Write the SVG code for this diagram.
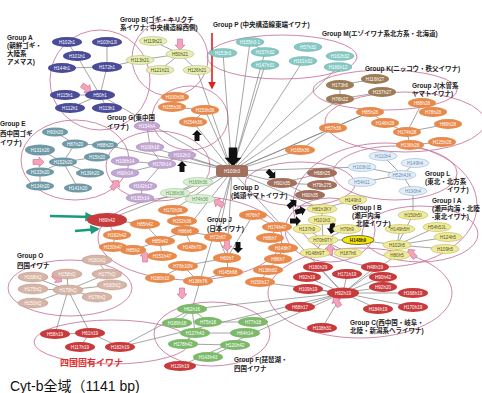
<svg xmlns="http://www.w3.org/2000/svg" width="482" height="393" viewBox="0 0 482 393">
<defs>
<style>
text{font-family:"Liberation Sans","Noto Sans CJK JP",sans-serif}
.n text{font-size:4.6px;text-anchor:middle}
.grp{fill:none;stroke:#c87aa0;stroke-width:0.9}
.ed{stroke:#7e7e7e;stroke-width:0.7;fill:none}
.a ellipse{fill:#4a4c98} .a text{fill:#fff}
.b ellipse{fill:#e9efb4;stroke:#a8b070;stroke-width:0.5} .b text{fill:#4a5020}
.p ellipse{fill:#86c8c4;stroke:#5aa6a2;stroke-width:0.4} .p text{fill:#fff}
.k ellipse{fill:#9c7b55} .k text{fill:#fff}
.o ellipse{fill:#e98a4c} .o text{fill:#fff}
.ge ellipse{fill:#6f99a6} .ge text{fill:#fff}
.g ellipse{fill:#c2a6d2;stroke:#9a7cb0;stroke-width:0.4} .g text{fill:#fff}
.lg ellipse{fill:#dcefd6;stroke:#8cbf86;stroke-width:0.5} .lg text{fill:#5a9a56}
.d ellipse{fill:#a2705c} .d text{fill:#fff}
.l ellipse{fill:#e2eef8;stroke:#8aa8c8;stroke-width:0.5} .l text{fill:#6d8cb0}
.y ellipse{fill:#efeb9c;stroke:#b8aa48;stroke-width:0.5} .y text{fill:#5a5520}
.yb ellipse{fill:#f6e800;stroke:#222;stroke-width:0.6} .yb text{fill:#222;font-weight:bold}
.t ellipse{fill:#d6b4a6;stroke:#b08878;stroke-width:0.4} .t text{fill:#fff}
.r ellipse{fill:#c83a3c} .r text{fill:#fff}
.f ellipse{fill:#7cba6a} .f text{fill:#fff}
.hub rect{fill:#a2705c} .hub text{fill:#fff}
.lbl{font-size:6.5px;font-weight:bold;fill:#222}
.bk{fill:#111}
.pk{fill:#f3a3bb;stroke:#d46c8c;stroke-width:0.6}
</style>
<path id="blk" d="M-5,-2.5 L1,-2.5 L1,-5 L6,0 L1,5 L1,2.5 L-5,2.5 Z"/>
<marker id="mr" viewBox="0 0 10 10" refX="8" refY="5" markerWidth="5" markerHeight="5" orient="auto"><path d="M0,0 L10,5 L0,10 Z" fill="#e02020"/></marker>
<marker id="mg" viewBox="0 0 10 10" refX="8" refY="5" markerWidth="4" markerHeight="4" orient="auto"><path d="M0,0 L10,5 L0,10 Z" fill="#1a9a78"/></marker>
</defs>
<rect width="482" height="393" fill="#fff"/>

<g id="groups">
<circle class="grp" cx="100" cy="80" r="50"/>
<circle class="grp" cx="170" cy="58" r="38"/>
<ellipse class="grp" cx="282" cy="57" rx="75" ry="22"/>
<ellipse class="grp" cx="385" cy="90" rx="72" ry="20"/>
<ellipse class="grp" cx="405" cy="122" rx="80" ry="30"/>
<ellipse class="grp" cx="75" cy="160" rx="54" ry="40"/>
<ellipse class="grp" cx="158" cy="166" rx="52" ry="35"/>
<ellipse class="grp" cx="190" cy="118" rx="38" ry="32"/>
<ellipse class="grp" cx="300" cy="184" rx="55" ry="22"/>
<ellipse class="grp" cx="395" cy="173" rx="62" ry="27"/>
<ellipse class="grp" cx="330" cy="230" rx="45" ry="32"/>
<ellipse class="grp" cx="420" cy="234" rx="58" ry="28"/>
<ellipse class="grp" cx="385" cy="205" rx="92" ry="62"/>
<ellipse class="grp" cx="190" cy="238" rx="92" ry="42"/>
<ellipse class="grp" cx="70" cy="288" rx="62" ry="28"/>
<ellipse class="grp" cx="112" cy="342" rx="78" ry="22"/>
<ellipse class="grp" cx="212" cy="334" rx="58" ry="32"/>
<ellipse class="grp" cx="360" cy="293" rx="92" ry="45"/>
</g>

<g id="connectors">
<path class="ed" d="M232,171L100,95M232,171L197,70M232,171L223,53M232,171L250,42M232,171L265,52M232,171L265,65M232,171L303,61M232,171L338,67M232,171L340,99M232,171L370,112M232,171L300,150M232,171L333,128M232,171L105,145M232,171L182,155M232,171L150,147M232,171L198,182M232,171L282,183M232,171L362,167M232,171L322,209M232,171L227,258M232,171L218,237M232,171L185,231M232,171L173,210M232,171L192,309M232,171L343,293M232,171L107,220M232,171L193,122M232,171L205,110"/>
<path class="ed" d="M107,42L107,67M77,56L100,95M107,67L100,95M62,68L107,67M65,95L100,95M100,95L70,108M100,95L107,108M67,42L77,56M107,67L140,60"/>
<path class="ed" d="M180,54L153,41M180,54L140,60M180,54L160,70M180,54L197,70M250,42L265,52M340,85L340,99M340,99L382,92M375,79L340,85"/>
<path class="ed" d="M407,132L385,123M407,132L422,103M422,103L433,112M407,132L448,124M385,123L370,112M407,132L410,145M410,145L442,142M333,128L370,112M300,150L333,128M175,97L172,107M172,107L205,110M205,110L193,122"/>
<path class="ed" d="M63,162L40,150M63,162L75,144M75,144L55,132M75,144L105,145M63,162L97,157M63,162L40,172M63,162L90,173M40,172L40,186M63,162L78,188"/>
<path class="ed" d="M162,164L150,147M162,164L182,155M162,164L125,161M162,164L125,173M162,164L143,186M143,186L140,198M150,147L147,126M198,182L175,193M175,193L200,199"/>
<path class="ed" d="M282,183L322,173M282,183L322,185M282,183L310,195M402,175L383,156M402,175L415,163M402,175L362,167M402,175L362,182M402,175L413,191"/>
<path class="ed" d="M323,240L322,220M322,220L322,209M323,240L307,229M323,240L347,229M323,240L358,240M323,240L315,253M323,240L348,253M322,209L353,200M358,240L397,245M397,245L413,215M397,245L400,229M397,245L437,227M397,245L448,237M397,245L445,249M397,245L397,255M413,191L413,215"/>
<path class="ed" d="M185,231L173,210M185,231L182,221M185,231L192,247M185,231L218,237M185,231L160,241M160,241L145,224M160,241L133,250M160,241L162,256M218,237L227,258M227,258L253,215M253,215L277,227M277,227L270,238M270,238L283,248M283,248L278,259M107,220L145,224M107,220L115,235M115,235L113,247"/>
<path class="ed" d="M183,266L160,278M183,266L198,281M198,281L228,272M228,272L227,258M227,258L183,266M278,259L268,270M268,270L260,282"/>
<path class="ed" d="M68,290L67,274M68,290L33,289M68,290L33,277M68,290L107,274M68,290L112,285M68,290L97,297M68,290L33,303M97,260L107,274M68,290L55,334M68,290L90,333"/>
<path class="ed" d="M90,333L55,334M90,333L80,347M90,333L120,347M120,347L192,309M180,366L343,293M120,347L343,293"/>
<path class="ed" d="M192,309L177,323M192,309L208,322M208,322L253,322M192,309L195,333M195,333L245,333M195,333L183,344M183,344L235,345M235,345L208,357M192,309L343,293M253,322L300,307"/>
<path class="ed" d="M343,293L318,267M343,293L307,277M343,293L347,274M343,293L308,289M343,293L300,307M343,293L322,328M343,293L375,267M343,293L383,277M343,293L383,287M343,293L413,293M343,293L413,307M343,293L378,309M343,293L260,282M343,293L397,255"/>
<path d="M212,33L212,88" stroke="#e02020" stroke-width="1.6" marker-end="url(#mr)"/>
<path d="M50,216L93,217" stroke="#1a9a78" stroke-width="2.4" marker-end="url(#mg)"/>
<path d="M75,231L98,229" stroke="#1a9a78" stroke-width="2.4" marker-end="url(#mg)"/>
</g>

<g id="arrows">
<use href="#blk" class="bk" transform="translate(197,136) rotate(-90)"/>
<use href="#blk" class="bk" transform="translate(182,167) rotate(-90)"/>
<use href="#blk" class="bk" transform="translate(233,156) rotate(90) scale(1.7)"/>
<use href="#blk" class="bk" transform="translate(271,174) rotate(45)"/>
<use href="#blk" class="bk" transform="translate(292,204) rotate(-40)"/>
<use href="#blk" class="bk" transform="translate(300,211) rotate(-15)"/>
<use href="#blk" class="bk" transform="translate(295,221) rotate(0)"/>
<use href="#blk" class="bk" transform="translate(332,228) rotate(100)"/>
<use href="#blk" class="bk" transform="translate(238,247) rotate(90)"/>
<use href="#blk" class="pk" transform="translate(180,44) rotate(90)"/>
<use href="#blk" class="pk" transform="translate(86,88) rotate(35)"/>
<use href="#blk" class="pk" transform="translate(38,162)"/>
<use href="#blk" class="pk" transform="translate(115,185) rotate(-50)"/>
<use href="#blk" class="pk" transform="translate(219,203) rotate(-150)"/>
<use href="#blk" class="pk" transform="translate(145,257) rotate(-90)"/>
<use href="#blk" class="pk" transform="translate(227,245) rotate(90)"/>
<use href="#blk" class="pk" transform="translate(330,250) rotate(-90)"/>
<use href="#blk" class="pk" transform="translate(57,278) rotate(40)"/>
<use href="#blk" class="pk" transform="translate(182,293) rotate(90)"/>
<use href="#blk" class="pk" transform="translate(337,302) rotate(-120)"/>
<use href="#blk" class="pk" transform="translate(412,254) rotate(-130)"/>
</g>

<g id="hub" class="n hub"><rect x="216" y="165" width="32" height="12" rx="3"/><text x="232" y="173">H100h3</text></g>

<g id="nA1" class="n a"><ellipse cx="67" cy="42" rx="15" ry="5"/><text x="67" y="43.6">H102h1</text></g>
<g id="nA2" class="n a"><ellipse cx="107" cy="42" rx="15" ry="5"/><text x="107" y="43.6">H103h1JI</text></g>
<g id="nA3" class="n a"><ellipse cx="77" cy="56" rx="14" ry="5"/><text x="77" y="57.6">H101h1</text></g>
<g id="nA4" class="n a"><ellipse cx="62" cy="68" rx="14" ry="5"/><text x="62" y="69.6">H144h1</text></g>
<g id="nA5" class="n a"><ellipse cx="107" cy="67" rx="15" ry="5"/><text x="107" y="68.6">H172h1</text></g>
<g id="nA6" class="n a"><ellipse cx="65" cy="95" rx="15" ry="5"/><text x="65" y="96.6">H115h1</text></g>
<g id="nA7" class="n a"><ellipse cx="100" cy="95" rx="15" ry="5"/><text x="100" y="96.6">H50h1</text></g>
<g id="nA8" class="n a"><ellipse cx="70" cy="108" rx="15" ry="5"/><text x="70" y="109.6">H112h1</text></g>
<g id="nA9" class="n a"><ellipse cx="107" cy="108" rx="15" ry="5"/><text x="107" y="109.6">H113h1</text></g>

<g id="nB1" class="n b"><ellipse cx="153" cy="41" rx="14" ry="4.5"/><text x="153" y="42.6">H119h21</text></g>
<g id="nB2" class="n b"><ellipse cx="180" cy="54" rx="14" ry="4.5"/><text x="180" y="55.6">H50h21</text></g>
<g id="nB3" class="n b"><ellipse cx="140" cy="60" rx="14" ry="4.5"/><text x="140" y="61.6">H113h21</text></g>
<g id="nB4" class="n b"><ellipse cx="160" cy="70" rx="14" ry="4.5"/><text x="160" y="71.6">H121h21</text></g>
<g id="nB5" class="n b"><ellipse cx="197" cy="70" rx="14" ry="4.5"/><text x="197" y="71.6">H126h21</text></g>

<g id="nP1" class="n p"><ellipse cx="223" cy="53" rx="14" ry="4.5"/><text x="223" y="54.6">H153h3</text></g>
<g id="nP2" class="n p"><ellipse cx="250" cy="42" rx="14" ry="4.5"/><text x="250" y="43.6">H155h3-1</text></g>
<g id="nP3" class="n p"><ellipse cx="265" cy="52" rx="14" ry="4.5"/><text x="265" y="53.6">H157h32</text></g>
<g id="nP4" class="n p"><ellipse cx="265" cy="65" rx="14" ry="4.5"/><text x="265" y="66.6">H147h31</text></g>
<g id="nP5" class="n p"><ellipse cx="308" cy="47" rx="14" ry="4.5"/><text x="308" y="48.6">H57h32</text></g>
<g id="nP6" class="n p"><ellipse cx="340" cy="56" rx="14" ry="4.5"/><text x="340" y="57.6">H162h32</text></g>
<g id="nP7" class="n p"><ellipse cx="303" cy="61" rx="14" ry="4.5"/><text x="303" y="62.6">H161h32</text></g>
<g id="nP8" class="n p"><ellipse cx="338" cy="67" rx="14" ry="4.5"/><text x="338" y="68.6">H166h12</text></g>

<g id="nK1" class="n k"><ellipse cx="340" cy="85" rx="14" ry="5"/><text x="340" y="86.6">H173h6</text></g>
<g id="nK2" class="n k"><ellipse cx="340" cy="99" rx="14" ry="5"/><text x="340" y="100.6">H78h22</text></g>
<g id="nK3" class="n k"><ellipse cx="375" cy="79" rx="14" ry="5"/><text x="375" y="80.6">H116h27</text></g>
<g id="nK4" class="n k"><ellipse cx="382" cy="92" rx="14" ry="5"/><text x="382" y="93.6">H157h27</text></g>

<g id="nJ1" class="n o"><ellipse cx="422" cy="103" rx="14" ry="5"/><text x="422" y="104.6">H88h28</text></g>
<g id="nJ2" class="n o"><ellipse cx="433" cy="112" rx="14" ry="5"/><text x="433" y="113.6">H78h28</text></g>
<g id="nJ3" class="n o"><ellipse cx="370" cy="112" rx="14" ry="5"/><text x="370" y="113.6">H85h28</text></g>
<g id="nJ4" class="n o"><ellipse cx="385" cy="123" rx="14" ry="5"/><text x="385" y="124.6">H146h28</text></g>
<g id="nJ5" class="n o"><ellipse cx="448" cy="124" rx="14" ry="5"/><text x="448" y="125.6">H89h28</text></g>
<g id="nJ6" class="n o"><ellipse cx="407" cy="132" rx="14" ry="5"/><text x="407" y="133.6">H174h28</text></g>
<g id="nJ7" class="n o"><ellipse cx="410" cy="145" rx="14" ry="5"/><text x="410" y="146.6">H136h28</text></g>
<g id="nJ8" class="n o"><ellipse cx="442" cy="142" rx="14" ry="5"/><text x="442" y="143.6">H125h28</text></g>
<g id="nJ9" class="n o"><ellipse cx="333" cy="128" rx="14" ry="5"/><text x="333" y="129.6">H57h36</text></g>
<g id="nJ10" class="n o"><ellipse cx="300" cy="150" rx="15" ry="5"/><text x="300" y="151.6">H165h36</text></g>
<g id="nJ11" class="n o"><ellipse cx="175" cy="97" rx="14" ry="5"/><text x="175" y="98.6">H100h36</text></g>
<g id="nJ12" class="n o"><ellipse cx="172" cy="107" rx="14" ry="5"/><text x="172" y="108.6">H155h36</text></g>
<g id="nJ13" class="n o"><ellipse cx="205" cy="110" rx="14" ry="5"/><text x="205" y="111.6">H153h36</text></g>
<g id="nJ14" class="n o"><ellipse cx="193" cy="122" rx="14" ry="5"/><text x="193" y="123.6">H154h36</text></g>

<g id="nE1" class="n ge"><ellipse cx="55" cy="132" rx="13" ry="4.5"/><text x="55" y="133.6">H93h20</text></g>
<g id="nE2" class="n ge"><ellipse cx="75" cy="144" rx="13" ry="4.5"/><text x="75" y="145.6">H87h20</text></g>
<g id="nE3" class="n ge"><ellipse cx="105" cy="145" rx="13" ry="4.5"/><text x="105" y="146.6">H88h20</text></g>
<g id="nE4" class="n ge"><ellipse cx="40" cy="150" rx="15" ry="5.5"/><text x="40" y="151.6">H131h20</text></g>
<g id="nE5" class="n ge"><ellipse cx="63" cy="162" rx="14" ry="4.5"/><text x="63" y="163.6">H152h20</text></g>
<g id="nE6" class="n ge"><ellipse cx="97" cy="157" rx="13" ry="4.5"/><text x="97" y="158.6">H15h20</text></g>
<g id="nE7" class="n ge"><ellipse cx="40" cy="172" rx="14" ry="4.5"/><text x="40" y="173.6">H133h20</text></g>
<g id="nE8" class="n ge"><ellipse cx="90" cy="173" rx="14" ry="4.5"/><text x="90" y="174.6">H139h20</text></g>
<g id="nE9" class="n ge"><ellipse cx="40" cy="186" rx="14" ry="4.5"/><text x="40" y="187.6">H134h20</text></g>
<g id="nE10" class="n ge"><ellipse cx="78" cy="188" rx="14" ry="4.5"/><text x="78" y="189.6">H141h20</text></g>

<g id="nG1" class="n g"><ellipse cx="147" cy="126" rx="13" ry="4.5"/><text x="147" y="127.6">H154hA</text></g>
<g id="nG2" class="n g"><ellipse cx="150" cy="147" rx="14" ry="4.5"/><text x="150" y="148.6">H109h18</text></g>
<g id="nG3" class="n g"><ellipse cx="182" cy="155" rx="14" ry="4.5"/><text x="182" y="156.6">H162h3</text></g>
<g id="nG4" class="n g"><ellipse cx="162" cy="164" rx="14" ry="4.5"/><text x="162" y="165.6">H179h14</text></g>
<g id="nG5" class="n g"><ellipse cx="125" cy="161" rx="14" ry="4.5"/><text x="125" y="162.6">H108h14</text></g>
<g id="nG6" class="n g"><ellipse cx="125" cy="173" rx="14" ry="4.5"/><text x="125" y="174.6">H90h14</text></g>
<g id="nG7" class="n g"><ellipse cx="143" cy="186" rx="14" ry="4.5"/><text x="143" y="187.6">H142h17</text></g>
<g id="nG8" class="n g"><ellipse cx="140" cy="198" rx="14" ry="4.5"/><text x="140" y="199.6">H135h14</text></g>

<g id="nLG1" class="n lg"><ellipse cx="198" cy="182" rx="15" ry="4.5"/><text x="198" y="183.6">H169h36</text></g>
<g id="nLG2" class="n lg"><ellipse cx="175" cy="193" rx="15" ry="4.5"/><text x="175" y="194.6">H136h36</text></g>
<g id="nLG3" class="n lg"><ellipse cx="200" cy="199" rx="15" ry="4.5"/><text x="200" y="200.6">H74h36</text></g>

<g id="nD1" class="n d"><ellipse cx="322" cy="173" rx="15" ry="5"/><text x="322" y="174.6">H68h25</text></g>
<g id="nD2" class="n d"><ellipse cx="282" cy="183" rx="15" ry="5"/><text x="282" y="184.6">H91h35</text></g>
<g id="nD3" class="n d"><ellipse cx="322" cy="185" rx="15" ry="5"/><text x="322" y="186.6">H79h275</text></g>
<g id="nD4" class="n d"><ellipse cx="310" cy="195" rx="15" ry="5"/><text x="310" y="196.6">H90h35</text></g>

<g id="nL1" class="n l"><ellipse cx="383" cy="156" rx="14" ry="4.5"/><text x="383" y="157.6">H110h4</text></g>
<g id="nL2" class="n l"><ellipse cx="415" cy="163" rx="14" ry="4.5"/><text x="415" y="164.6">H149h4</text></g>
<g id="nL3" class="n l"><ellipse cx="402" cy="175" rx="14" ry="4.5"/><text x="402" y="176.6">H52h4JK</text></g>
<g id="nL4" class="n l"><ellipse cx="362" cy="167" rx="14" ry="4.5"/><text x="362" y="168.6">H103h11</text></g>
<g id="nL5" class="n l"><ellipse cx="362" cy="182" rx="14" ry="4.5"/><text x="362" y="183.6">H54h11</text></g>
<g id="nL6" class="n l"><ellipse cx="413" cy="191" rx="14" ry="4.5"/><text x="413" y="192.6">H190h4</text></g>

<g id="nI1" class="n y"><ellipse cx="353" cy="200" rx="14" ry="4.5"/><text x="353" y="201.6">H149h3</text></g>
<g id="nI2" class="n y"><ellipse cx="322" cy="209" rx="15" ry="4.5"/><text x="322" y="210.6">H81h3KY</text></g>
<g id="nI3" class="n y"><ellipse cx="322" cy="220" rx="14" ry="4.5"/><text x="322" y="221.6">H101h3</text></g>
<g id="nI4" class="n y"><ellipse cx="307" cy="229" rx="14" ry="4.5"/><text x="307" y="230.6">H137h9</text></g>
<g id="nI5" class="n y"><ellipse cx="347" cy="229" rx="14" ry="4.5"/><text x="347" y="230.6">H79h9</text></g>
<g id="nI6" class="n y"><ellipse cx="323" cy="240" rx="15" ry="4.5"/><text x="323" y="241.6">H70h9TY</text></g>
<g id="nI7" class="n y"><ellipse cx="315" cy="253" rx="15" ry="4.5"/><text x="315" y="254.6">H148h9T</text></g>
<g id="nI8" class="n y"><ellipse cx="348" cy="253" rx="14" ry="4.5"/><text x="348" y="254.6">H187h6</text></g>
<g id="nI9" class="n yb"><ellipse cx="358" cy="240" rx="16" ry="4.5"/><text x="358" y="241.6">H148h9</text></g>
<g id="nI10" class="n y"><ellipse cx="413" cy="215" rx="15" ry="4.5"/><text x="413" y="216.6">H150h5I</text></g>
<g id="nI11" class="n y"><ellipse cx="400" cy="229" rx="15" ry="4.5"/><text x="400" y="230.6">H149h5H</text></g>
<g id="nI12" class="n y"><ellipse cx="437" cy="227" rx="14" ry="4.5"/><text x="437" y="228.6">H54h5JL</text></g>
<g id="nI13" class="n y"><ellipse cx="448" cy="237" rx="14" ry="4.5"/><text x="448" y="238.6">H124h5</text></g>
<g id="nI14" class="n y"><ellipse cx="397" cy="245" rx="14" ry="4.5"/><text x="397" y="246.6">H102h5</text></g>
<g id="nI15" class="n y"><ellipse cx="445" cy="249" rx="14" ry="4.5"/><text x="445" y="250.6">H109h5</text></g>
<g id="nI16" class="n y"><ellipse cx="397" cy="255" rx="13" ry="4.5"/><text x="397" y="256.6">H80h5</text></g>

<g id="nO1" class="n r"><ellipse cx="107" cy="220" rx="20" ry="7"/><text x="107" y="221.6">H89h42</text></g>
<g id="nO2" class="n o"><ellipse cx="117" cy="235" rx="14" ry="5"/><text x="117" y="236.6">H182h42</text></g>
<g id="nO3" class="n o"><ellipse cx="113" cy="247" rx="14" ry="5"/><text x="113" y="248.6">H150h42</text></g>
<g id="nO4" class="n o"><ellipse cx="173" cy="210" rx="15" ry="5"/><text x="173" y="211.6">H170h36</text></g>
<g id="nO5" class="n o"><ellipse cx="182" cy="221" rx="15" ry="5"/><text x="182" y="222.6">H152h36</text></g>
<g id="nO6" class="n o"><ellipse cx="185" cy="231" rx="14" ry="5"/><text x="185" y="232.6">H86h6</text></g>
<g id="nO7" class="n o"><ellipse cx="145" cy="224" rx="15" ry="5"/><text x="145" y="225.6">H85h42</text></g>
<g id="nO9" class="n o"><ellipse cx="160" cy="241" rx="15" ry="5"/><text x="160" y="242.6">H85h42</text></g>
<g id="nO10" class="n o"><ellipse cx="133" cy="250" rx="13" ry="5"/><text x="133" y="251.6">H85h2</text></g>
<g id="nO11" class="n o"><ellipse cx="192" cy="247" rx="15" ry="5"/><text x="192" y="248.6">H148h70</text></g>
<g id="nO12" class="n o"><ellipse cx="162" cy="256" rx="15" ry="5"/><text x="162" y="257.6">H151h47</text></g>
<g id="nO13" class="n o"><ellipse cx="218" cy="237" rx="14" ry="5"/><text x="218" y="238.6">H72h67</text></g>
<g id="nO14" class="n o"><ellipse cx="227" cy="258" rx="14" ry="5"/><text x="227" y="259.6">H60h7</text></g>
<g id="nO15" class="n o"><ellipse cx="253" cy="215" rx="14" ry="5"/><text x="253" y="216.6">H76h7</text></g>
<g id="nO16" class="n o"><ellipse cx="277" cy="227" rx="15" ry="5"/><text x="277" y="228.6">H174h47</text></g>
<g id="nO17" class="n o"><ellipse cx="270" cy="238" rx="14" ry="5"/><text x="270" y="239.6">H86h7</text></g>
<g id="nO18" class="n o"><ellipse cx="283" cy="248" rx="15" ry="5"/><text x="283" y="249.6">H148h7</text></g>
<g id="nO19" class="n o"><ellipse cx="278" cy="259" rx="14" ry="5"/><text x="278" y="260.6">H86h7</text></g>
<g id="nO20" class="n o"><ellipse cx="183" cy="266" rx="15" ry="5"/><text x="183" y="267.6">H76h10N</text></g>
<g id="nO21" class="n o"><ellipse cx="160" cy="278" rx="15" ry="5"/><text x="160" y="279.6">H180h10</text></g>
<g id="nO22" class="n o"><ellipse cx="198" cy="281" rx="15" ry="5"/><text x="198" y="282.6">H138h76</text></g>
<g id="nO23" class="n o"><ellipse cx="228" cy="272" rx="15" ry="5"/><text x="228" y="273.6">H145h68</text></g>
<g id="nO24" class="n o"><ellipse cx="268" cy="270" rx="15" ry="5"/><text x="268" y="271.6">H138h82</text></g>
<g id="nO25" class="n o"><ellipse cx="260" cy="282" rx="15" ry="5"/><text x="260" y="283.6">H150h17</text></g>

<g id="nQ1" class="n t"><ellipse cx="33" cy="277" rx="15" ry="5"/><text x="33" y="278.6">H168hQ</text></g>
<g id="nQ2" class="n t"><ellipse cx="67" cy="274" rx="15" ry="5"/><text x="67" y="275.6">H158hQ</text></g>
<g id="nQ3" class="n t"><ellipse cx="107" cy="274" rx="15" ry="5"/><text x="107" y="275.6">H177hQ</text></g>
<g id="nQ4" class="n t"><ellipse cx="33" cy="289" rx="15" ry="5"/><text x="33" y="290.6">H175hQ</text></g>
<g id="nQ5" class="n t"><ellipse cx="68" cy="290" rx="15" ry="5"/><text x="68" y="291.6">H179hQ</text></g>
<g id="nQ6" class="n t"><ellipse cx="112" cy="285" rx="15" ry="5"/><text x="112" y="286.6">H183hQ</text></g>
<g id="nQ7" class="n t"><ellipse cx="97" cy="297" rx="15" ry="5"/><text x="97" y="298.6">H176hQ</text></g>
<g id="nQ8" class="n t"><ellipse cx="33" cy="303" rx="15" ry="5"/><text x="33" y="304.6">H150hQ</text></g>
<g id="nQ9" class="n t"><ellipse cx="97" cy="260" rx="15" ry="5"/><text x="97" y="261.6">H181hQ</text></g>

<g id="nR1" class="n r"><ellipse cx="55" cy="334" rx="15" ry="5"/><text x="55" y="335.6">H58h19</text></g>
<g id="nR2" class="n r"><ellipse cx="90" cy="333" rx="15" ry="5"/><text x="90" y="334.6">H61h19</text></g>
<g id="nR3" class="n r"><ellipse cx="80" cy="347" rx="15" ry="5"/><text x="80" y="348.6">H117h19</text></g>
<g id="nR4" class="n r"><ellipse cx="120" cy="347" rx="15" ry="5"/><text x="120" y="348.6">H182h19</text></g>
<g id="nR5" class="n r"><ellipse cx="180" cy="366" rx="16" ry="5"/><text x="180" y="367.6">H129h19</text></g>

<g id="nF1" class="n f"><ellipse cx="192" cy="309" rx="15" ry="5"/><text x="192" y="310.6">H62h16</text></g>
<g id="nF2" class="n f"><ellipse cx="177" cy="323" rx="15" ry="5"/><text x="177" y="324.6">H189h18</text></g>
<g id="nF3" class="n f"><ellipse cx="208" cy="322" rx="14" ry="5"/><text x="208" y="323.6">H75h18</text></g>
<g id="nF4" class="n f"><ellipse cx="253" cy="322" rx="15" ry="5"/><text x="253" y="323.6">H77h18</text></g>
<g id="nF5" class="n f"><ellipse cx="195" cy="333" rx="15" ry="5"/><text x="195" y="334.6">H127h43</text></g>
<g id="nF6" class="n f"><ellipse cx="245" cy="333" rx="15" ry="5"/><text x="245" y="334.6">H64h14</text></g>
<g id="nF7" class="n f"><ellipse cx="183" cy="344" rx="15" ry="5"/><text x="183" y="345.6">H178h42</text></g>
<g id="nF8" class="n f"><ellipse cx="235" cy="345" rx="15" ry="5"/><text x="235" y="346.6">H120h42</text></g>
<g id="nF9" class="n f"><ellipse cx="208" cy="357" rx="15" ry="5"/><text x="208" y="358.6">H143h43</text></g>

<g id="nC1" class="n r"><ellipse cx="318" cy="267" rx="15" ry="5"/><text x="318" y="268.6">H180h29</text></g>
<g id="nC2" class="n r"><ellipse cx="307" cy="277" rx="14" ry="5"/><text x="307" y="278.6">H92h19</text></g>
<g id="nC3" class="n r"><ellipse cx="347" cy="274" rx="15" ry="5"/><text x="347" y="275.6">H171h19</text></g>
<g id="nC4" class="n r"><ellipse cx="308" cy="289" rx="15" ry="5"/><text x="308" y="290.6">H109h19</text></g>
<g id="nC5" class="n r"><ellipse cx="343" cy="293" rx="16" ry="5.5"/><text x="343" y="294.6">H92h19</text></g>
<g id="nC6" class="n r"><ellipse cx="300" cy="307" rx="15" ry="5"/><text x="300" y="308.6">H68h17</text></g>
<g id="nC7" class="n r"><ellipse cx="322" cy="328" rx="15" ry="5"/><text x="322" y="329.6">H108h31</text></g>
<g id="nC8" class="n r"><ellipse cx="375" cy="267" rx="14" ry="5"/><text x="375" y="268.6">H48h19</text></g>
<g id="nC9" class="n r"><ellipse cx="383" cy="277" rx="14" ry="5"/><text x="383" y="278.6">H90h42</text></g>
<g id="nC10" class="n r"><ellipse cx="383" cy="287" rx="14" ry="5"/><text x="383" y="288.6">H92h20</text></g>
<g id="nC11" class="n r"><ellipse cx="413" cy="293" rx="15" ry="5"/><text x="413" y="294.6">H168h19</text></g>
<g id="nC12" class="n r"><ellipse cx="413" cy="307" rx="15" ry="5"/><text x="413" y="308.6">H170h19</text></g>
<g id="nC13" class="n r"><ellipse cx="378" cy="309" rx="15" ry="5"/><text x="378" y="310.6">H184h19</text></g>

<g id="labels">
<text class="lbl" x="7" y="40" font-size="7">Group A</text>
<text class="lbl" x="7" y="48">(朝鮮ゴギ・</text>
<text class="lbl" x="7" y="56">大陸系</text>
<text class="lbl" x="7" y="64">アメマス)</text>
<text class="lbl" x="120" y="22">Group B(ゴギ・キリクチ</text>
<text class="lbl" x="120" y="30">系イワナ; 中央構造線西側)</text>
<text class="lbl" x="213" y="27">Group P (中央構造線東端イワナ)</text>
<text class="lbl" x="322" y="36">Group M(エゾイワナ系北方系・北海道)</text>
<text class="lbl" x="365" y="71">Group K(ニッコウ・秩父イワナ)</text>
<text class="lbl" x="412" y="88">Group J(木曽系</text>
<text class="lbl" x="412" y="96">ヤマトイワナ)</text>
<text class="lbl" x="0" y="126">Group E</text>
<text class="lbl" x="0" y="136">西中国ゴギ</text>
<text class="lbl" x="0" y="145">イワナ)</text>
<text class="lbl" x="107" y="120">Group G(東中国</text>
<text class="lbl" x="107" y="129">イワナ)</text>
<text class="lbl" x="233" y="190">Group D</text>
<text class="lbl" x="231" y="198">(鈍頭ヤマトイワナ)</text>
<text class="lbl" x="207" y="222">Group J</text>
<text class="lbl" x="207" y="231">(日本イワナ)</text>
<text class="lbl" x="352" y="210">Group I B</text>
<text class="lbl" x="352" y="218">(瀬戸内海</text>
<text class="lbl" x="356" y="226">北陸イワナ)</text>
<text class="lbl" x="425" y="176">Group L</text>
<text class="lbl" x="425" y="184">(東北・北方系</text>
<text class="lbl" x="447" y="192">イワナ)</text>
<text class="lbl" x="432" y="203">Group I A</text>
<text class="lbl" x="432" y="211">(瀬戸内海・北陸</text>
<text class="lbl" x="432" y="219">-東北イワナ)</text>
<text class="lbl" x="17" y="258" font-size="10">Group O</text>
<text class="lbl" x="17" y="268" font-size="9">四国イワナ</text>
<text class="lbl" x="234" y="362">Group F(琵琶湖・</text>
<text class="lbl" x="234" y="371">四国イワナ</text>
<text class="lbl" x="350" y="325">Group C(西中国・岐阜・</text>
<text class="lbl" x="350" y="333">北陸・新潟系ヘライワナ)</text>
<text x="60" y="366" font-size="9" font-weight="bold" fill="#e03030">四国固有イワナ</text>
<text x="10" y="391" font-size="14" fill="#111">Cyt-b全域（1141 bp)</text>
</g>
</svg>
